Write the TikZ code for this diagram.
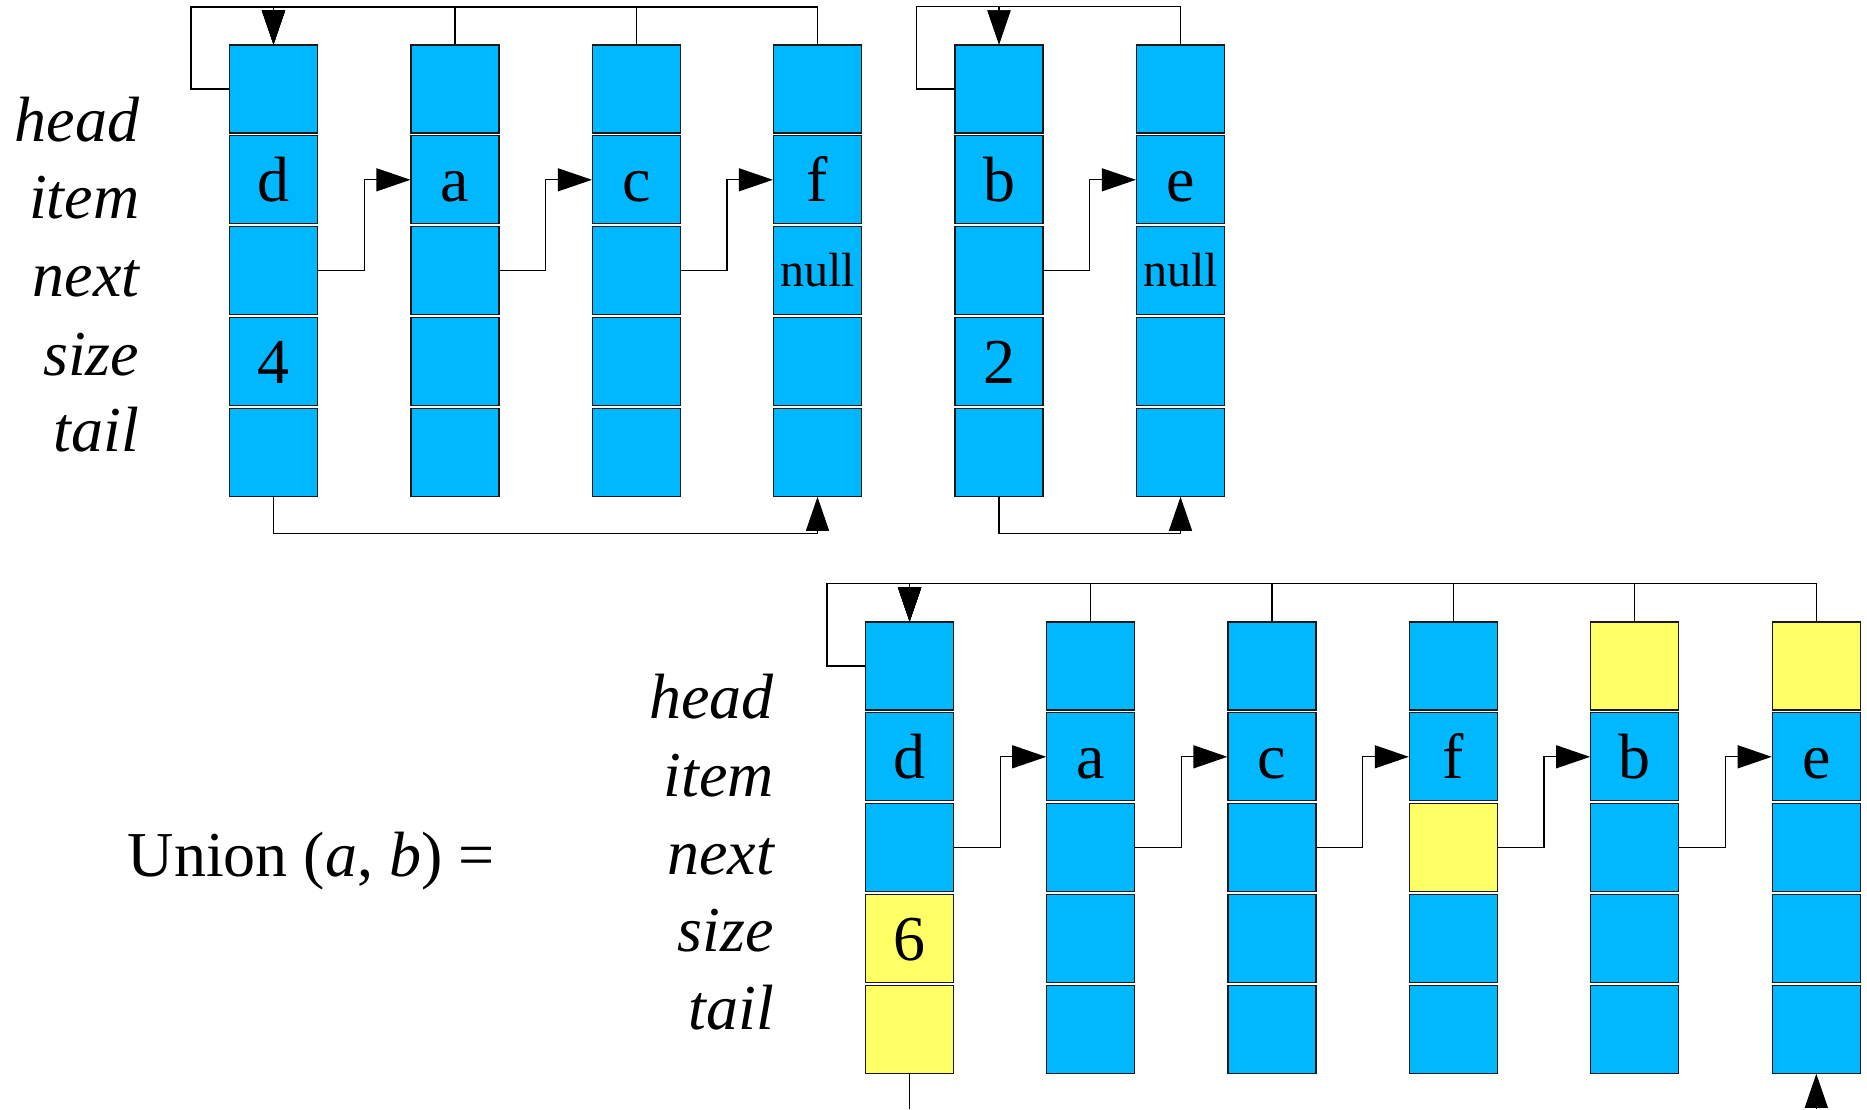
\documentclass[tikz,border=0pt]{standalone}
\usepackage{fontspec}
\setmainfont{Liberation Serif}
\usetikzlibrary{arrows.meta,calc}

\definecolor{cellblue}{RGB}{0,184,255}
\definecolor{cellyellow}{RGB}{255,255,102}

% "null" is set smaller and sits a little higher in its cell
\newcommand\nulltext{\raisebox{6pt}{\fontsize{48}{54}\selectfont null}}

% One list node: five stacked cells (head, item, next, size, tail).
% #1 name, #2 x, #3 y of head centre, #4 head fill, #5 item text,
% #6 next fill, #7 next text, #8 size/tail fill, #9 size text
\newcommand\listnode[9]{%
  \node[cell, fill=#4] (#1-h) at (#2,#3) {};
  \node[cell] (#1-i) at (#2,#3+90.8) {#5};
  \node[cell, fill=#6] (#1-n) at (#2,#3+181.6) {#7};
  \node[cell, fill=#8] (#1-s) at (#2,#3+272.4) {#9};
  \node[cell, fill=#8] (#1-t) at (#2,#3+363.2) {};
}

\begin{document}
\begin{tikzpicture}[x=1pt,y=-1pt,
  cell/.style={draw=black!90, line width=1.2pt, fill=cellblue,
    minimum width=88pt, minimum height=88pt, inner sep=0pt,
    text height=44pt, text depth=0pt, font=\fontsize{64}{70}\selectfont},
  fieldlabel/.style={anchor=base east, inner sep=0pt,
    font=\fontsize{64}{70}\selectfont\itshape},
  link/.style={draw=black, line width=1.2pt},
  ptr/.style={link, -{Triangle[length=34pt,width=23pt]}},
]
\useasboundingbox (0,0) rectangle (1867,1109);

% ---------- list a ----------
\listnode{ad}{273.5}{89}{cellblue}{d}{cellblue}{}{cellblue}{4}
\listnode{aa}{455}{89}{cellblue}{a}{cellblue}{}{cellblue}{}
\listnode{ac}{636.5}{89}{cellblue}{c}{cellblue}{}{cellblue}{}
\listnode{af}{817.5}{89}{cellblue}{f}{cellblue}{\nulltext}{cellblue}{}

% ---------- list b ----------
\listnode{bb}{999}{89}{cellblue}{b}{cellblue}{}{cellblue}{2}
\listnode{be}{1180.5}{89}{cellblue}{e}{cellblue}{\nulltext}{cellblue}{}

% ---------- union ----------
\listnode{ud}{909.6}{666}{cellblue}{d}{cellblue}{}{cellyellow}{6}
\listnode{ua}{1090.8}{666}{cellblue}{a}{cellblue}{}{cellblue}{}
\listnode{uc}{1272}{666}{cellblue}{c}{cellblue}{}{cellblue}{}
\listnode{uf}{1453.4}{666}{cellblue}{f}{cellyellow}{}{cellblue}{}
\listnode{ub}{1634.7}{666}{cellyellow}{b}{cellblue}{}{cellblue}{}
\listnode{ue}{1816.3}{666}{cellyellow}{e}{cellblue}{}{cellblue}{}

% field names
\node[fieldlabel] (la-h) at (139.5,141.7) {head};
\node[fieldlabel] (la-i) at (139.5,218.0) {item};
\node[fieldlabel] (la-n) at (139.5,296.7) {next};
\node[fieldlabel] (la-s) at (139.5,375.0) {size};
\node[fieldlabel] (la-t) at (139.5,451.7) {tail};

\node[fieldlabel] (lu-h) at (774,718.3) {head};
\node[fieldlabel] (lu-i) at (774,796.0) {item};
\node[fieldlabel] (lu-n) at (774,874.0) {next};
\node[fieldlabel] (lu-s) at (774,951.7) {size};
\node[fieldlabel] (lu-t) at (774,1029.3) {tail};

\node[anchor=base west, inner sep=0pt, font=\fontsize{64}{70}\selectfont]
  (union) at (127.7,876.7) {Union (\textit{a}, \textit{b}) =};

% ---------- head pointers ----------
\coordinate (ajoin) at (273.5,7);
\draw[ptr] (ad-h.west) -- ++(-38,0) |- (ajoin) -- (ad-h.north);
\foreach \c in {aa,ac,af} \draw[ptr] (\c-h.north) |- (ajoin) -- (ad-h.north);

\coordinate (bjoin) at (999,6.5);
\draw[ptr] (bb-h.west) -- ++(-38,0) |- (bjoin) -- (bb-h.north);
\draw[ptr] (be-h.north) |- (bjoin) -- (bb-h.north);

\coordinate (ujoin) at (909.6,583.5);
\draw[ptr] (ud-h.west) -- ++(-38,0) |- (ujoin) -- (ud-h.north);
\foreach \c in {ua,uc,uf,ub,ue} \draw[ptr] (\c-h.north) |- (ujoin) -- (ud-h.north);

% ---------- next pointers ----------
\foreach \p/\q in {ad/aa,aa/ac,ac/af,bb/be,ud/ua,ua/uc,uc/uf,uf/ub,ub/ue}
  \draw[ptr] (\p-n.east) -| ($(\p-n.east)!.5!(\q-n.west)$) |- (\q-i.west);

% ---------- tail pointers ----------
\coordinate (atail) at (273.5,533.5);
\draw[ptr] (ad-t.south) -- (atail) -| (af-t.south);
\coordinate (btail) at (999,533.5);
\draw[ptr] (bb-t.south) -- (btail) -| (be-t.south);
\coordinate (uout) at (909.6,1109);
\draw[link] (ud-t.south) -- (uout);
\coordinate (uin) at (1816.3,1109);
\draw[ptr] (uin) -- (ue-t.south);
\end{tikzpicture}
\end{document}
